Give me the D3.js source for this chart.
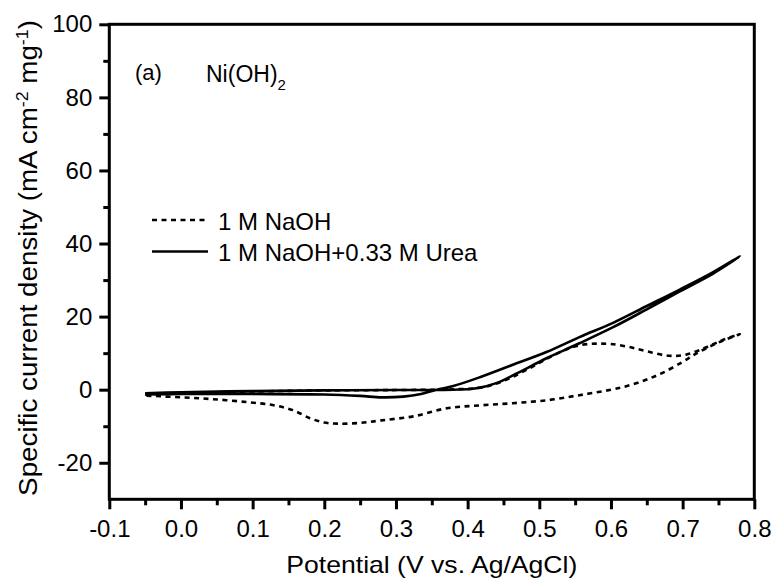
<!DOCTYPE html>
<html>
<head>
<meta charset="utf-8">
<script src="https://cdn.jsdelivr.net/npm/d3@7/dist/d3.min.js"></script>
<style>
  html, body { margin: 0; padding: 0; background: #fff; }
  svg { display: block; }
  text { font-family: "Liberation Sans", Arial, sans-serif; fill: #000; }
</style>
</head>
<body>
<svg id="chart" width="778" height="585"></svg>
<script>
// ---------------- Data ----------------
// 1 M NaOH (dotted): anodic (forward) scan then cathodic (reverse) scan
const naohForwardV = [-0.05, 0.00, 0.05, 0.10, 0.20, 0.30, 0.38, 0.42, 0.45, 0.48, 0.51, 0.54, 0.56, 0.58, 0.60, 0.625, 0.65, 0.68, 0.705, 0.733, 0.756, 0.78];
const naohForwardJ = [-1.3, -0.9, -0.7, -0.5, -0.2, -0.1, 0.1, 0.6, 2.4, 5.2, 8.4, 11.2, 12.3, 12.6, 12.5, 11.7, 10.5, 9.3, 9.6, 11.6, 13.6, 15.2];
const naohReverseV = [0.78, 0.756, 0.742, 0.72, 0.70, 0.672, 0.65, 0.626, 0.60, 0.556, 0.51, 0.463, 0.417, 0.371, 0.324, 0.28, 0.25, 0.22, 0.20, 0.18, 0.156, 0.128, 0.092, 0.045, 0.00, -0.05];
const naohReverseJ = [15.0, 13.4, 12.2, 10.0, 7.6, 4.6, 2.8, 1.2, 0.0, -1.5, -2.9, -3.7, -4.3, -5.1, -7.3, -8.4, -9.1, -9.3, -9.0, -7.8, -5.6, -4.2, -3.4, -2.6, -2.1, -1.6];

// 1 M NaOH + 0.33 M Urea (solid)
const ureaForwardV = [-0.05, 0.00, 0.05, 0.10, 0.20, 0.30, 0.38, 0.41, 0.44, 0.47, 0.51, 0.556, 0.603, 0.65, 0.696, 0.742, 0.78];
const ureaForwardJ = [-1.0, -0.7, -0.5, -0.4, -0.2, -0.1, 0.0, 0.3, 1.8, 4.6, 8.6, 12.7, 17.1, 22.0, 26.9, 31.7, 36.5];
const ureaReverseV = [0.78, 0.742, 0.696, 0.65, 0.603, 0.556, 0.51, 0.463, 0.417, 0.38, 0.357, 0.335, 0.31, 0.28, 0.25, 0.20, 0.10, 0.00, -0.05];
const ureaReverseJ = [36.6, 32.1, 27.4, 22.9, 18.3, 14.4, 10.3, 6.8, 3.4, 1.0, 0.0, -1.2, -1.9, -2.1, -1.7, -1.3, -1.2, -1.2, -1.3];

const xMajorTicks = [-0.1, 0.0, 0.1, 0.2, 0.3, 0.4, 0.5, 0.6, 0.7, 0.8];
const xTickLabels = ["-0.1", "0.0", "0.1", "0.2", "0.3", "0.4", "0.5", "0.6", "0.7", "0.8"];
const xMinorTicks = [-0.05, 0.05, 0.15, 0.25, 0.35, 0.45, 0.55, 0.65, 0.75];
const yMajorTicks = [-20, 0, 20, 40, 60, 80, 100];
const yTickLabels = ["-20", "0", "20", "40", "60", "80", "100"];
const yMinorTicks = [-10, 10, 30, 50, 70, 90];

const seriesNames = ["1 M NaOH", "1 M NaOH+0.33 M Urea"];

// ---------------- Drawing ----------------
(function () {
const svg = d3.select("#chart");
const pL = 109.3, pR = 754.3, pT = 24.3, pB = 499.3;
const x = d3.scaleLinear().domain([-0.1, 0.8]).range([pL, pR]);
const y = d3.scaleLinear().domain([-30, 100]).range([pB, pT]);

function zipLoop(fv, fj, rv, rj) {
  const a = fv.map((v, i) => [v, fj[i]]);
  const b = rv.map((v, i) => [v, rj[i]]);
  return a.concat(b.slice(1));
}
const naohLoop = zipLoop(naohForwardV, naohForwardJ, naohReverseV, naohReverseJ);
const ureaLoop = zipLoop(ureaForwardV, ureaForwardJ, ureaReverseV, ureaReverseJ);

const line = d3.line().x(d => x(d[0])).y(d => y(d[1])).curve(d3.curveCatmullRom.alpha(0.5));

svg.append("defs").append("clipPath").attr("id", "clip")
  .append("rect").attr("x", pL).attr("y", pT).attr("width", pR - pL).attr("height", pB - pT);

const plot = svg.append("g").attr("clip-path", "url(#clip)");
plot.append("path").datum(ureaLoop).attr("d", line)
  .attr("fill", "none").attr("stroke", "#000").attr("stroke-width", 2.6).attr("stroke-linejoin", "round");
plot.append("path").datum(naohLoop).attr("d", line)
  .attr("fill", "none").attr("stroke", "#000").attr("stroke-width", 2.6).attr("stroke-dasharray", "5,4.5");

// Axes
const xAxis = svg.append("g").attr("transform", `translate(0,${pB})`)
  .call(d3.axisBottom(x).tickValues(xMajorTicks).tickSize(10).tickPadding(11)
    .tickFormat((d, i) => xTickLabels[i]));
const xAxisMinor = svg.append("g").attr("transform", `translate(0,${pB})`)
  .call(d3.axisBottom(x).tickValues(xMinorTicks).tickSize(6).tickFormat(""));
const yAxis = svg.append("g").attr("transform", `translate(${pL},0)`)
  .call(d3.axisLeft(y).tickValues(yMajorTicks).tickSize(10).tickPadding(7)
    .tickFormat((d, i) => yTickLabels[i]));
const yAxisMinor = svg.append("g").attr("transform", `translate(${pL},0)`)
  .call(d3.axisLeft(y).tickValues(yMinorTicks).tickSize(6).tickFormat(""));

[xAxis, xAxisMinor, yAxis, yAxisMinor].forEach(g => {
  g.select(".domain").remove();
  g.selectAll(".tick line").attr("stroke", "#000").attr("stroke-width", 3);
  g.selectAll(".tick text").attr("font-size", 24).attr("fill", "#000")
    .style("font-family", '"Liberation Sans", Arial, sans-serif');
});

// Frame
svg.append("rect").attr("x", pL).attr("y", pT).attr("width", pR - pL).attr("height", pB - pT)
  .attr("fill", "none").attr("stroke", "#000").attr("stroke-width", 3);

// Axis titles
const xTitle = svg.append("text").attr("text-anchor", "middle").attr("font-size", 24)
  .text("Potential (V vs. Ag/AgCl)");
const xLen = xTitle.node().getComputedTextLength();
xTitle.attr("transform", `translate(${(pL + pR) / 2},573) scale(${291 / xLen},1)`);

const yTitle = svg.append("text").attr("text-anchor", "middle").attr("font-size", 25);
yTitle.append("tspan").text("Specific current density (mA cm");
yTitle.append("tspan").attr("dy", -9).attr("font-size", 16).text("-2");
yTitle.append("tspan").attr("dy", 9).text(" mg");
yTitle.append("tspan").attr("dy", -9).attr("font-size", 16).text("-1");
yTitle.append("tspan").attr("dy", 9).text(")");
const yLen = yTitle.node().getComputedTextLength();
yTitle.attr("transform", `translate(37,258) rotate(-90) scale(${476 / yLen},1)`);

// Annotations
svg.append("text").attr("x", 135).attr("y", 80).attr("font-size", 22).text("(a)");
const ni = svg.append("text").attr("x", 206).attr("y", 82).attr("font-size", 23);
ni.append("tspan").text("Ni(OH)");
ni.append("tspan").attr("dy", 8).attr("font-size", 15).text("2");

// Legend
const legendY = [220, 251.5];
const legendDash = ["5,4.5", null];
seriesNames.forEach((name, i) => {
  const l = svg.append("line").attr("x1", 152).attr("x2", 208).attr("y1", legendY[i]).attr("y2", legendY[i])
    .attr("stroke", "#000").attr("stroke-width", 2.6);
  if (legendDash[i]) l.attr("stroke-dasharray", legendDash[i]);
  svg.append("text").attr("x", 218).attr("y", legendY[i] + 9.5).attr("font-size", 24).text(name);
});
})();
</script>
</body>
</html>
